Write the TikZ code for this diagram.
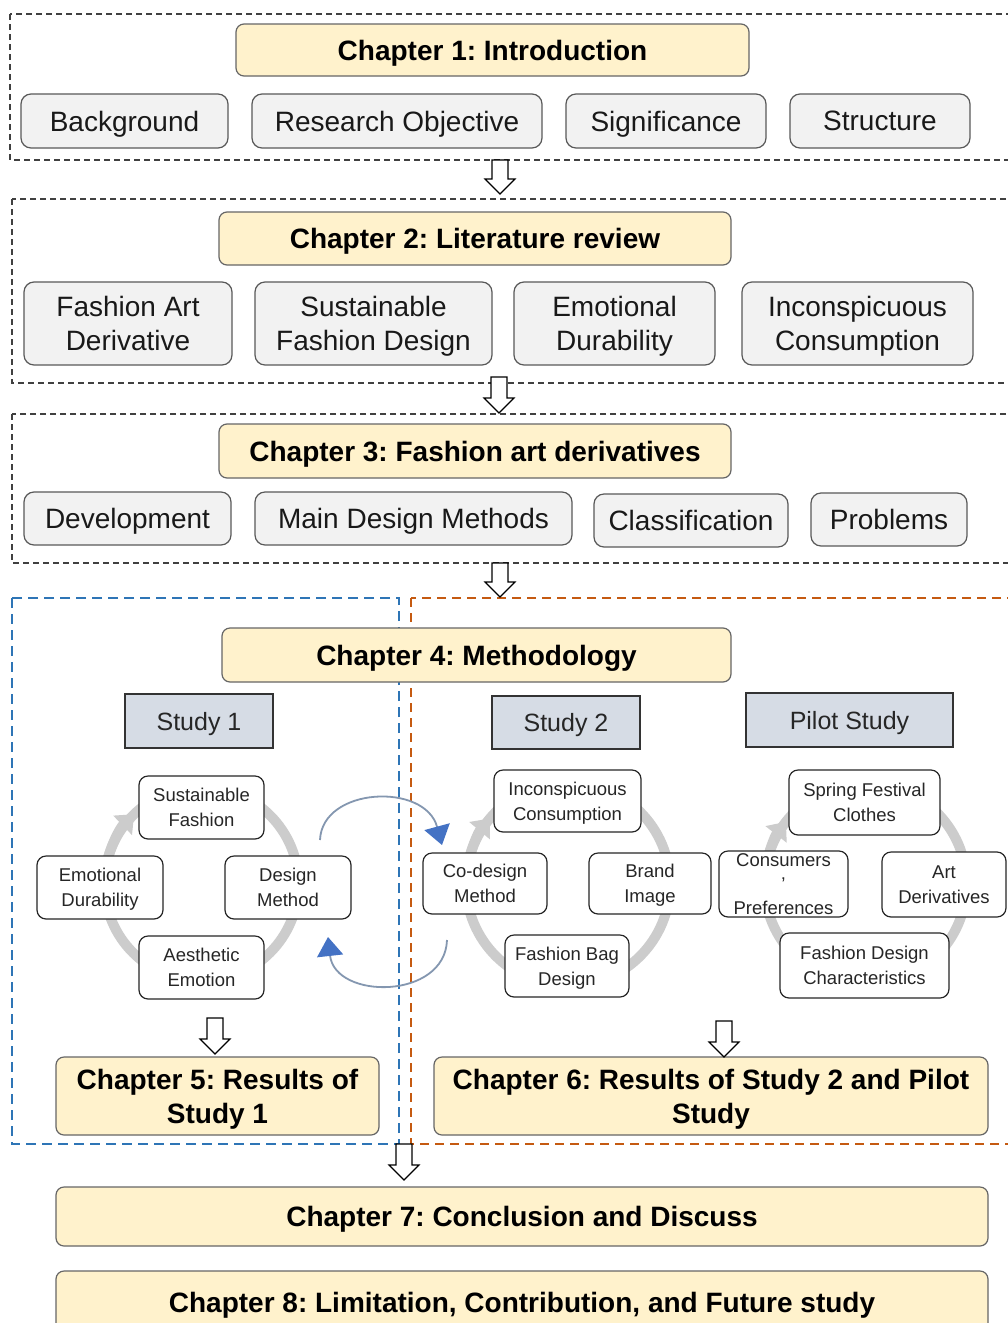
\documentclass[tikz,border=0pt]{standalone}
\usepackage{fontspec}
\setmainfont{Liberation Sans}
\usepackage{tikz}
\usetikzlibrary{arrows.meta}
\frenchspacing
\definecolor{chapfill}{HTML}{FFF2CC}
\definecolor{itemfill}{HTML}{F2F2F2}
\definecolor{studyfill}{HTML}{D6DCE5}
\definecolor{dashblue}{HTML}{2E75B6}
\definecolor{dashorange}{HTML}{C55A11}
\definecolor{loopblue}{HTML}{4472C4}
\definecolor{loopgray}{HTML}{8497B0}
\newcommand{\chapfont}{\fontsize{28}{34}\selectfont\bfseries}
\newcommand{\itemfont}{\fontsize{28}{34}\selectfont}
\newcommand{\studyfont}{\fontsize{25}{30}\selectfont}
\newcommand{\cycfont}{\fontsize{18.5}{25}\selectfont}
\tikzstyle{chapter} = [draw=black!60, fill=chapfill, rounded corners=8pt, line width=1.2pt, font=\chapfont, align=center, inner sep=0pt, text depth=0pt]
\tikzstyle{item} = [draw=black!65, fill=itemfill, rounded corners=10pt, line width=1.2pt, font=\itemfont, align=center, inner sep=0pt, text depth=0pt, text=black!90]
\tikzstyle{study} = [draw=black!80, fill=studyfill, line width=1.5pt, font=\studyfont, inner sep=0pt, text depth=0pt, text=black!85]
\tikzstyle{cyc} = [draw=black!85, fill=white, rounded corners=9pt, line width=1.2pt, font=\cycfont, align=center, inner sep=0pt, text depth=0pt, text=black!85]
\tikzstyle{ring} = [draw=black!20, line width=10pt]
\tikzstyle{ringhead} = [ring, -{Triangle[length=16pt,width=26pt]}]
\tikzstyle{section} = [draw=black!75, line width=1.3pt, dash pattern=on 6pt off 4pt]
\tikzstyle{hollow} = [draw=black, fill=white, line width=1.2pt]
\tikzstyle{loop} = [draw=loopgray, line width=1.8pt, -{Triangle[length=19pt,width=26pt,color=loopblue]}]
% block arrow: x, top, tip
\newcommand{\hollowarrow}[3]{\draw[hollow] (#1-8,#2) -- (#1+8,#2) -- (#1+8,#3-15) -- (#1+15,#3-15) -- (#1,#3) -- (#1-15,#3-15) -- (#1-8,#3-15) -- cycle;}

\begin{document}
\begin{tikzpicture}[x=1pt, y=-1pt]
        \useasboundingbox[fill=white] (0,0) rectangle (1008,1323);
        % Chapter frames
        \draw[section] (10,14) rectangle (1030,160);
        \draw[section] (12,199) rectangle (1030,383);
        \draw[section] (12,414) rectangle (1030,563);
        \draw[dashblue, line width=1.6pt, dash pattern=on 10pt off 6pt] (12,598) rectangle (399,1144);
        \draw[dashorange, line width=1.6pt, dash pattern=on 9pt off 6pt] (411,598) rectangle (1030,1144);

        % Chapter 1
        \node[chapter, minimum width=513, minimum height=52] (ch1) at (492.5,50) {Chapter 1: Introduction};
        \node[item, minimum width=207, minimum height=54] (bg) at (124.5,121) {Background};
        \node[item, minimum width=290, minimum height=54] (ro) at (397,121) {Research Objective};
        \node[item, minimum width=200, minimum height=54] (sig) at (666,121) {Significance};
        \node[item, minimum width=180, minimum height=54] (str) at (880,121) {Structure};

        % Chapter 2
        \node[chapter, minimum width=512, minimum height=53] (ch2) at (475,238.5) {Chapter 2: Literature review};
        \node[item, minimum width=208, minimum height=83] (fad) at (128,323.5) {Fashion Art\\Derivative};
        \node[item, minimum width=237, minimum height=83] (sfd) at (373.5,323.5) {Sustainable\\Fashion Design};
        \node[item, minimum width=201, minimum height=83] (edur) at (614.5,323.5) {Emotional\\Durability};
        \node[item, minimum width=231, minimum height=83] (icon) at (857.5,323.5) {Inconspicuous\\Consumption};

        % Chapter 3
        \node[chapter, minimum width=512, minimum height=54] (ch3) at (475,451) {Chapter 3: Fashion art derivatives};
        \node[item, minimum width=207, minimum height=53] (dev) at (127.5,518.5) {Development};
        \node[item, minimum width=317, minimum height=53] (mdm) at (413.5,518.5) {Main Design Methods};
        \node[item, minimum width=194, minimum height=53] (cls) at (691,520.5) {Classification};
        \node[item, minimum width=156, minimum height=53] (prb) at (889,519.5) {Problems};

        % Cycle rings
        \draw[ring] (201.5,884) circle[radius=97pt];
        \draw[ringhead] ([shift={(168:97pt)}]201.5,884) arc[start angle=168, end angle=134, radius=97pt];
        \draw[ring] (568,884) circle[radius=102pt];
        \draw[ringhead] ([shift={(170:102pt)}]568,884) arc[start angle=170, end angle=140, radius=102pt];
        \draw[ring] (865.5,884) circle[radius=101pt];
        \draw[ringhead] ([shift={(172:101pt)}]865.5,884) arc[start angle=172, end angle=142, radius=101pt];

        % Chapter 4
        \node[chapter, minimum width=509, minimum height=54] (ch4) at (476.5,655) {Chapter 4: Methodology};
        \node[study, minimum width=148, minimum height=54] (st1) at (199,721) {Study 1};
        \node[study, minimum width=148, minimum height=53] (st2) at (566,722.5) {Study 2};
        \node[study, minimum width=207, minimum height=54] (pst) at (849.5,720) {Pilot Study};

        % Study 1 cycle
        \node[cyc, minimum width=125, minimum height=63] (sf) at (201.5,807.5) {Sustainable\\Fashion};
        \node[cyc, minimum width=126, minimum height=63] (emd) at (100,887.5) {Emotional\\Durability};
        \node[cyc, minimum width=126, minimum height=63] (dm) at (288,887.5) {Design\\Method};
        \node[cyc, minimum width=125, minimum height=63] (ae) at (201.5,967.5) {Aesthetic\\Emotion};

        % Study 2 cycle
        \node[cyc, minimum width=147, minimum height=62] (icn) at (567.5,801) {Inconspicuous\\Consumption};
        \node[cyc, minimum width=124, minimum height=61] (cdm) at (485,883.5) {Co-design\\Method};
        \node[cyc, minimum width=122, minimum height=61] (bi) at (650,883.5) {Brand\\Image};
        \node[cyc, minimum width=124, minimum height=62] (fbd) at (567,966) {Fashion Bag\\Design};

        % Pilot study cycle
        \node[cyc, minimum width=151, minimum height=65] (sfc) at (864.5,802.5) {Spring Festival\\Clothes};
        \node[cyc, minimum width=129, minimum height=66, font=\fontsize{18.5}{24}\selectfont] (cpr) at (783.5,884) {Consumers\\’\\Preferences};
        \node[cyc, minimum width=124, minimum height=65] (ad) at (944,884.5) {Art\\Derivatives};
        \node[cyc, minimum width=169, minimum height=65] (fdc) at (864.5,965.5) {Fashion Design\\Characteristics};

        % Loop between studies
        \coordinate (lu1) at (320,840);
        \coordinate (lu2) at (442,845);
        \coordinate (ll1) at (447,940);
        \coordinate (ll2) at (328,937);
        \draw[loop] (lu1) .. controls (322,787) and (425,782) .. (lu2);
        \draw[loop] (ll1) .. controls (445,1000) and (335,1000) .. (ll2);

        % Results and closing chapters
        \node[chapter, minimum width=323, minimum height=78] (ch5) at (217.5,1096) {Chapter 5: Results of\\Study 1};
        \node[chapter, minimum width=554, minimum height=78] (ch6) at (711,1096) {Chapter 6: Results of Study 2 and Pilot\\Study};
        \node[chapter, minimum width=932, minimum height=59] (ch7) at (522,1216.5) {Chapter 7: Conclusion and Discuss};
        \node[chapter, minimum width=932, minimum height=62] (ch8) at (522,1302) {Chapter 8: Limitation, Contribution, and Future study};

        % Block arrows
        \hollowarrow{500}{160}{194}
        \hollowarrow{499}{377}{413}
        \hollowarrow{500}{563}{597}
        \hollowarrow{215}{1018}{1054}
        \hollowarrow{724}{1021}{1057}
        \hollowarrow{404}{1144}{1180}
\end{tikzpicture}
\end{document}
